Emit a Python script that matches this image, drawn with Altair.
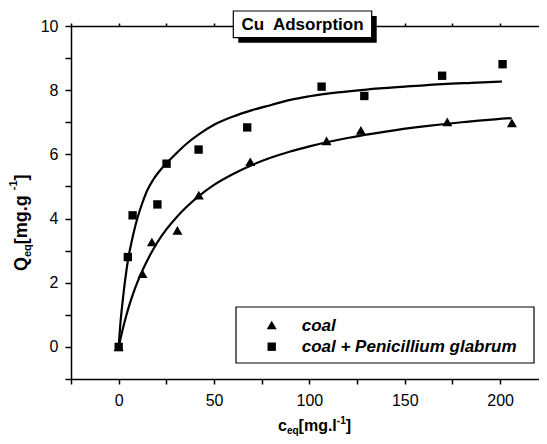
import altair as alt
import pandas as pd

# ---------------- data ----------------
series_names = ["coal", "coal + Penicillium glabrum"]
series_shapes = ["triangle-up", "square"]

coal_c = [0, 12.5, 17.4, 30.8, 42.0, 69.0, 109.0, 127.0, 172.3, 206.2]
coal_q = [0, 2.28, 3.27, 3.63, 4.73, 5.77, 6.42, 6.75, 7.01, 6.98]

pen_c = [0, 4.8, 7.3, 20.3, 25.1, 41.9, 67.4, 106.4, 128.8, 169.6, 201.3]
pen_q = [0, 2.80, 4.10, 4.44, 5.71, 6.15, 6.84, 8.11, 7.82, 8.45, 8.81]

fit_coal_c = [0, 2, 4, 6, 8, 10, 13, 16, 20, 25, 30, 35, 42, 50, 60, 70, 80, 90,
              100, 120, 140, 160, 180, 206]
fit_coal_q = [0, 0.52, 0.98, 1.38, 1.73, 2.04, 2.45, 2.81, 3.23, 3.66, 4.02, 4.33,
              4.70, 5.05, 5.39, 5.67, 5.90, 6.09, 6.25, 6.51, 6.71, 6.87, 7.00, 7.13]

fit_pen_c = [0, 1, 2, 3, 4, 5, 6.5, 8, 10, 12.5, 15, 18, 21, 25, 30, 35, 42, 50,
             60, 70, 80, 90, 100, 115, 130, 150, 170, 185, 201]
fit_pen_q = [0, 0.80, 1.38, 1.90, 2.35, 2.75, 3.20, 3.60, 4.05, 4.50, 4.88, 5.20,
             5.45, 5.72, 6.02, 6.30, 6.62, 6.92, 7.18, 7.38, 7.54, 7.70, 7.81, 7.93,
             8.02, 8.11, 8.19, 8.23, 8.27]

x_ticks = [-25, 0, 25, 50, 75, 100, 125, 150, 175, 200]
y_ticks = [-1, 0, 1, 2, 3, 4, 5, 6, 7, 8, 9, 10]
x_domain = [-25, 220.4]
y_domain = [-1, 10]

title_text = "Cu\u00a0 Adsorption"
y_title_parts = ["Q", "eq", " [mg.g", "-1", "]"]
x_title_parts = ["c", "eq", "[mg.l", "-1", "]"]

FONT = "Liberation Sans"

points = pd.DataFrame({
    "c": coal_c + pen_c,
    "q": coal_q + pen_q,
    "series": [series_names[0]] * len(coal_c) + [series_names[1]] * len(pen_c),
})
fits = pd.DataFrame({
    "c": fit_coal_c + fit_pen_c,
    "q": fit_coal_q + fit_pen_q,
    "series": [series_names[0]] * len(fit_coal_c) + [series_names[1]] * len(fit_pen_c),
})

xscale = alt.Scale(domain=x_domain, nice=False, zero=False)
yscale = alt.Scale(domain=y_domain, nice=False, zero=False)
shape_scale = alt.Scale(domain=series_names, range=series_shapes)
size_scale = alt.Scale(domain=series_names, range=[100, 70])

y_axis = alt.Axis(values=y_ticks, title=None,
                  labelExpr="datum.value % 2 == 0 ? datum.label : ''",
                  tickSize=6, labelPadding=7, labelFlush=False, labelOverlap=False,
                  domainWidth=1.5, tickWidth=1.5)

lines = alt.Chart(fits).mark_line(color="black", strokeWidth=2.2, interpolate="monotone").encode(
    x=alt.X("c:Q", scale=xscale,
            axis=alt.Axis(orient="top", values=x_ticks, labels=False, title=None,
                          tickSize=3, domainWidth=1.5, tickWidth=1.5)),
    y=alt.Y("q:Q", scale=yscale, axis=y_axis),
    detail="series:N",
)

pts = alt.Chart(points).mark_point(filled=True, color="black", opacity=1).encode(
    x=alt.X("c:Q", scale=xscale,
            axis=alt.Axis(orient="bottom", values=x_ticks, title=None,
                          labelExpr="datum.value >= 0 && datum.value % 50 == 0 ? datum.label : ''",
                          tickSize=5, labelPadding=8, labelFlush=False, labelOverlap=False,
                          domainWidth=1.5, tickWidth=1.5)),
    y=alt.Y("q:Q", scale=yscale, axis=y_axis),
    shape=alt.Shape("series:N", scale=shape_scale, legend=None),
    size=alt.Size("series:N", scale=size_scale, legend=None),
)

one = pd.DataFrame({"k": [0]})


def box(x, x2, y, y2, fill, stroke=None, sw=0):
    kw = dict(fill=fill)
    if stroke:
        kw.update(stroke=stroke, strokeWidth=sw)
    return alt.Chart(one).mark_rect(**kw).encode(
        x=alt.value(x), x2=alt.value(x2), y=alt.value(y), y2=alt.value(y2))


def txt(s, x, y, size, angle=0, style="normal", weight="bold", align="left"):
    return alt.Chart(pd.DataFrame({"t": [s]})).mark_text(
        font=FONT, fontSize=size, fontWeight=weight, fontStyle=style,
        align=align, baseline="alphabetic", angle=angle, color="black",
    ).encode(x=alt.value(x), y=alt.value(y), text="t:N")


# title box with shadow
title_layers = [
    box(167.3, 305.7, -10, 16.7, "black"),
    box(162.3, 300.7, -15, 11.7, "white", "black", 1.2),
    txt(title_text, 231.5, 4, 17, align="center"),
]

# legend
legend_layers = [box(165, 463, 281, 337, "white", "black", 1.2)]
row_y = [299, 320.7]
row_base = [304.5, 326]
sym_sizes = [100, 70]
for i, name in enumerate(series_names):
    legend_layers.append(
        alt.Chart(pd.DataFrame({"s": [name]})).mark_point(
            filled=True, color="black", opacity=1, shape=series_shapes[i], size=sym_sizes[i]
        ).encode(x=alt.value(200.7), y=alt.value(row_y[i]))
    )
    legend_layers.append(txt(name, 230.7, row_base[i], 17, style="italic"))

# y title (rotated, with subscript and superscript)
yt = [
    txt(y_title_parts[0], -44.5, 245, 18, angle=270),
    txt(y_title_parts[1], -40.5, 231, 11, angle=270),
    txt(y_title_parts[2], -44.5, 218.2, 18, angle=270),
    txt(y_title_parts[3], -54, 164.2, 11, angle=270),
    txt(y_title_parts[4], -44.5, 154.4, 18, angle=270),
]
# x title
xt = [
    txt(x_title_parts[0], 207, 405, 16),
    txt(x_title_parts[1], 215.9, 407.5, 10),
    txt(x_title_parts[2], 227.6, 405, 16),
    txt(x_title_parts[3], 265.8, 398, 10),
    txt(x_title_parts[4], 274.7, 405, 16),
]

chart = alt.layer(lines, pts, *title_layers, *legend_layers, *yt, *xt).resolve_axis(
    x="independent"
).properties(
    width=468, height=353,
    padding={"left": 63, "top": 18, "right": 0, "bottom": 57},
    autosize=alt.AutoSizeParams(type="none"),
).configure_view(stroke=None).configure_axis(
    labelFont=FONT, labelFontSize=16, labelColor="black",
    domainColor="black", tickColor="black", grid=False,
)

chart.save("out.html", embed_options={"renderer": "svg", "actions": False})
